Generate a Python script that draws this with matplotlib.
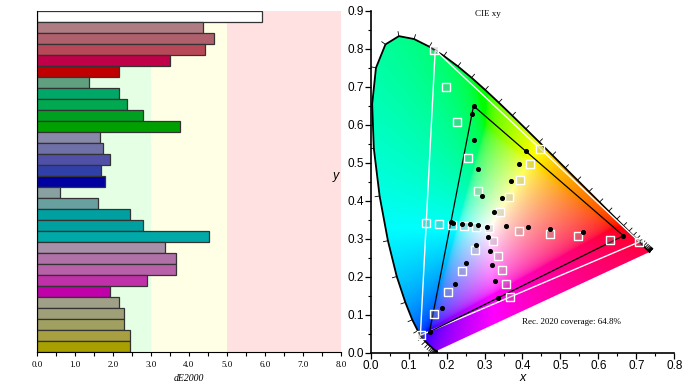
import numpy as np
import matplotlib
matplotlib.use('Agg')
import matplotlib.pyplot as plt
from matplotlib.patches import Polygon

# ---- left: dE2000 bars (top to bottom) ----
de_values = [5.93, 4.36, 4.66, 4.42, 3.49, 2.15, 1.36, 2.16, 2.36, 2.80, 3.76,
             1.67, 1.73, 1.93, 1.68, 1.80, 0.60, 1.61, 2.46, 2.80, 4.52,
             3.36, 3.67, 3.65, 2.89, 1.91, 2.17, 2.30, 2.30, 2.44, 2.46]
bar_colors = ['#ffffff', '#b07c84', '#b0606c', '#b84858', '#c00048', '#c00000',
              '#60a080', '#00a868', '#00a850', '#00a020', '#00a000',
              '#8888a8', '#7070a8', '#5050a8', '#3040a8', '#0000a0',
              '#88a0a0', '#68a0a0', '#00a0a0', '#00a0a0', '#00a8a8',
              '#a890a8', '#b070a8', '#b860a8', '#c030a8', '#c000a8',
              '#a0a088', '#a0a078', '#a0a060', '#a8a040', '#a8a000']
bands = [(0, 3, '#e5ffe5'), (3, 5, '#ffffe5'), (5, 8, '#ffe1e1')]

# ---- right: CIE 1931 spectral locus, 380-700 nm every 5 nm ----
wavelengths = list(range(380, 705, 5))
locus_x = [0.1741, 0.1740, 0.1738, 0.1736, 0.1733, 0.1730, 0.1726, 0.1721, 0.1714, 0.1703,
           0.1689, 0.1669, 0.1644, 0.1611, 0.1566, 0.1510, 0.1440, 0.1355, 0.1241, 0.1096,
           0.0913, 0.0687, 0.0454, 0.0235, 0.0082, 0.0039, 0.0139, 0.0389, 0.0743, 0.1142,
           0.1547, 0.1929, 0.2296, 0.2658, 0.3016, 0.3373, 0.3731, 0.4087, 0.4441, 0.4788,
           0.5125, 0.5448, 0.5752, 0.6029, 0.6270, 0.6482, 0.6658, 0.6801, 0.6915, 0.7006,
           0.7079, 0.7140, 0.7190, 0.7230, 0.7260, 0.7283, 0.7300, 0.7311, 0.7320, 0.7327,
           0.7334, 0.7340, 0.7344, 0.7346, 0.7347]
locus_y = [0.0050, 0.0050, 0.0049, 0.0049, 0.0048, 0.0048, 0.0048, 0.0048, 0.0051, 0.0058,
           0.0069, 0.0086, 0.0109, 0.0138, 0.0177, 0.0227, 0.0297, 0.0399, 0.0578, 0.0868,
           0.1327, 0.2007, 0.2950, 0.4127, 0.5384, 0.6548, 0.7502, 0.8120, 0.8338, 0.8262,
           0.8059, 0.7816, 0.7543, 0.7243, 0.6923, 0.6589, 0.6245, 0.5896, 0.5547, 0.5202,
           0.4866, 0.4544, 0.4242, 0.3965, 0.3725, 0.3514, 0.3340, 0.3197, 0.3083, 0.2993,
           0.2920, 0.2859, 0.2809, 0.2770, 0.2740, 0.2717, 0.2700, 0.2689, 0.2680, 0.2673,
           0.2666, 0.2660, 0.2656, 0.2654, 0.2653]

rec2020_x = [0.708, 0.170, 0.131]
rec2020_y = [0.292, 0.797, 0.046]
gamut_x = [0.666, 0.271, 0.155]
gamut_y = [0.308, 0.650, 0.055]

meas_x = [0.271, 0.267, 0.271, 0.284, 0.410, 0.392, 0.370, 0.294, 0.345, 0.326,
          0.212, 0.218, 0.241, 0.263, 0.283, 0.306, 0.356, 0.415, 0.472, 0.559,
          0.666, 0.309, 0.277, 0.315, 0.251, 0.320, 0.222, 0.327, 0.336, 0.188, 0.155]
meas_y = [0.650, 0.628, 0.560, 0.484, 0.530, 0.497, 0.453, 0.412, 0.408, 0.371,
          0.343, 0.341, 0.339, 0.339, 0.336, 0.330, 0.333, 0.330, 0.325, 0.317,
          0.308, 0.305, 0.285, 0.269, 0.235, 0.231, 0.182, 0.190, 0.144, 0.118, 0.055]

target_x = [0.168, 0.198, 0.227, 0.256, 0.283, 0.365, 0.393, 0.419, 0.447, 0.340,
            0.146, 0.179, 0.213, 0.247, 0.277, 0.312, 0.391, 0.472, 0.546, 0.631,
            0.707, 0.322, 0.276, 0.335, 0.241, 0.346, 0.203, 0.356, 0.367, 0.168, 0.133]
target_y = [0.796, 0.701, 0.608, 0.514, 0.426, 0.409, 0.455, 0.496, 0.537, 0.371,
            0.342, 0.340, 0.336, 0.334, 0.332, 0.328, 0.320, 0.313, 0.307, 0.297,
            0.291, 0.294, 0.271, 0.255, 0.215, 0.217, 0.159, 0.182, 0.147, 0.101, 0.046]

coverage_text = 'Rec. 2020 coverage: 64.8%'


def xy_to_rgb(x, y):
    y = np.maximum(y, 1e-4)
    X = x / y
    Z = (1 - x - y) / y
    xyz = np.stack([X, np.ones_like(X), Z], axis=-1)
    M = np.array([[3.2406, -1.5372, -0.4986],
                  [-0.9689, 1.8758, 0.0415],
                  [0.0557, -0.2040, 1.0570]])
    rgb = xyz @ M.T
    # lift out-of-gamut colours partly towards white, then clip
    neg = np.minimum(rgb.min(axis=-1, keepdims=True), 0)
    rgb = np.clip(rgb - 0.6 * neg, 0, None)
    rgb = rgb / np.maximum(rgb.max(axis=-1, keepdims=True), 1e-6)
    rgb = np.where(rgb <= 0.0031308, 12.92 * rgb, 1.055 * rgb ** (1 / 2.4) - 0.055)
    return np.clip(rgb, 0, 1)


fig = plt.figure(figsize=(6.93, 3.90), dpi=100)
serif = 'Liberation Serif'
sans = 'Liberation Sans'

# ---------------- left bar chart ----------------
ax = fig.add_axes([0.0534, 0.0965, 0.4386, 0.8755])
for lo, hi, c in bands:
    ax.axvspan(lo, hi, color=c, lw=0, zorder=0)
pos = np.arange(len(de_values))
ax.barh(pos, de_values, height=1.0, color=bar_colors, edgecolor='#333333', linewidth=0.9, zorder=2)
ax.set_ylim(len(de_values) - 0.5, -0.5)
ax.set_xlim(0, 8)
ax.set_yticks([])
ax.set_xticks(np.arange(0, 9, 1))
ax.set_xticks(np.arange(0, 8.5, 0.5), minor=True)
ax.set_xticklabels(['%.1f' % v for v in np.arange(0, 9, 1)], fontsize=6.5, family=serif)
ax.tick_params(axis='x', which='both', direction='out', length=3, width=0.8, pad=3)
ax.set_xlabel('dE2000', fontsize=7, family=serif, style='italic', labelpad=4)
for s in ['top', 'right']:
    ax.spines[s].set_visible(False)
ax.spines['left'].set_linewidth(0.8)
ax.spines['bottom'].set_linewidth(0.8)

# ---------------- right CIE xy chart ----------------
ax2 = fig.add_axes([0.5349, 0.0956, 0.4381, 0.8762])
ax2.set_xlim(0, 0.8)
ax2.set_ylim(0, 0.9)

gx, gy = np.meshgrid(np.linspace(0, 0.8, 400), np.linspace(0, 0.9, 450))
img = xy_to_rgb(gx, gy)
im = ax2.imshow(img, extent=[0, 0.8, 0, 0.9], origin='lower', interpolation='bilinear',
                aspect='auto', zorder=0)
poly = Polygon(np.column_stack([locus_x, locus_y]), closed=True, facecolor='none',
               edgecolor='none', transform=ax2.transData)
ax2.add_patch(poly)
im.set_clip_path(poly)

ax2.plot(locus_x, locus_y, color='black', lw=1.3, zorder=3)

# wavelength ticks, pointing outward
lx = np.array(locus_x)
ly = np.array(locus_y)
cx, cy = 0.3127, 0.3290
for i in range(len(lx)):
    i0, i1 = max(i - 1, 0), min(i + 1, len(lx) - 1)
    tx, ty = lx[i1] - lx[i0], ly[i1] - ly[i0]
    nrm = np.hypot(tx, ty)
    if nrm == 0:
        continue
    nx, ny = -ty / nrm, tx / nrm
    if nx * (lx[i] - cx) + ny * (ly[i] - cy) < 0:
        nx, ny = -nx, -ny
    ax2.plot([lx[i], lx[i] + 0.012 * nx], [ly[i], ly[i] + 0.012 * ny],
             color='black', lw=0.6, zorder=3)

ax2.fill(rec2020_x, rec2020_y, facecolor='none', edgecolor='white', lw=1.0, zorder=4)
ax2.fill(gamut_x, gamut_y, facecolor='none', edgecolor='black', lw=0.9, zorder=4)
ax2.scatter(target_x, target_y, marker='s', s=34, facecolor=(0.6, 0.6, 0.6, 0.3),
            edgecolor='white', linewidth=1.0, zorder=5)
ax2.scatter(meas_x, meas_y, s=7, color='black', zorder=6)

ax2.text(0.31, 0.893, 'CIE xy', fontsize=6.5, family=serif, ha='center', va='center')
ax2.text(0.40, 0.081, coverage_text, fontsize=6.5, family=serif, ha='left', va='center')

ax2.set_xticks(np.arange(0, 0.81, 0.1))
ax2.set_xticks(np.arange(0, 0.81, 0.05), minor=True)
ax2.set_yticks(np.arange(0, 0.91, 0.1))
ax2.set_yticks(np.arange(0, 0.91, 0.05), minor=True)
ax2.set_xticklabels(['%.1f' % v for v in np.arange(0, 0.81, 0.1)], fontsize=8.5, family=sans)
ax2.set_yticklabels(['%.1f' % v for v in np.arange(0, 0.91, 0.1)], fontsize=8.5, family=sans)
ax2.tick_params(which='major', direction='out', length=4, width=0.9, pad=1)
ax2.tick_params(which='minor', direction='out', length=2.5, width=0.8)
ax2.set_xlabel('x', fontsize=9, family=sans, style='italic', labelpad=0)
ax2.set_ylabel('y', fontsize=9, family=sans, style='italic', rotation=0, labelpad=8)
for s in ['top', 'right']:
    ax2.spines[s].set_visible(False)
ax2.spines['left'].set_linewidth(1.2)
ax2.spines['bottom'].set_linewidth(1.2)

fig.savefig('out.png', dpi=100)
